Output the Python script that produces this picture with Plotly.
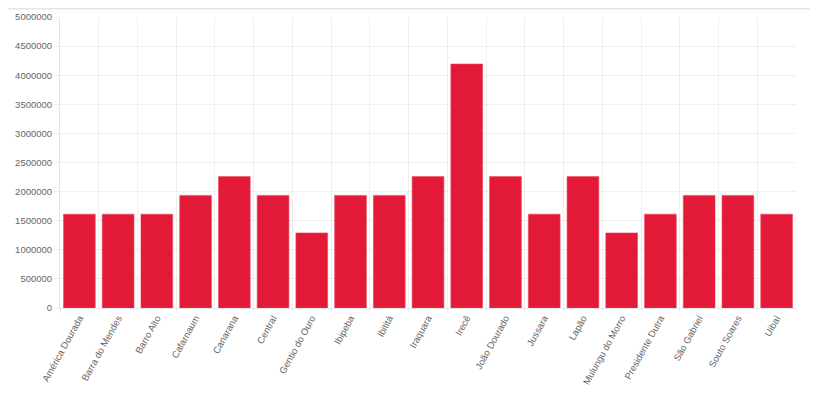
import plotly.graph_objects as go

categories = ["América Dourada", "Barra do Mendes", "Barro Alto", "Cafarnaum", "Canarana",
              "Central", "Gentio do Ouro", "Ibipeba", "Ibititá", "Iraquara", "Irecê",
              "João Dourado", "Jussara", "Lapão", "Mulungu do Morro", "Presidente Dutra",
              "São Gabriel", "Souto Soares", "Uibaí"]
values = [1612500, 1612500, 1612500, 1935000, 2257500,
          1935000, 1290000, 1935000, 1935000, 2257500, 4192500,
          2257500, 1612500, 2257500, 1290000, 1612500,
          1935000, 1935000, 1612500]
y_ticks = [0, 500000, 1000000, 1500000, 2000000, 2500000, 3000000, 3500000, 4000000, 4500000, 5000000]

fig = go.Figure(go.Bar(
    x=categories, y=values,
    marker=dict(color="#e31a37", line=dict(color="#ec4a60", width=0.6)),
))

grid = "rgba(0,0,0,0.06)"
fig.update_layout(
    width=802, height=382,
    margin=dict(l=52, r=14, t=9, b=82),
    paper_bgcolor="white", plot_bgcolor="white",
    bargap=0.18,
    showlegend=False,
    font=dict(family="Liberation Sans, Arial, sans-serif", size=9, color="#666"),
    xaxis=dict(
        automargin=False,
        tickangle=-61, tickson="boundaries", showgrid=True, gridcolor=grid, gridwidth=1,
        ticks="outside", ticklen=5, tickcolor=grid,
        showline=True, linecolor="rgba(0,0,0,0.1)", linewidth=1,
        tickfont=dict(size=9.5, color="#666"),
    ),
    yaxis=dict(
        automargin=False,
        range=[0, 5000000], tickvals=y_ticks, ticktext=[str(v) for v in y_ticks],
        showgrid=True, gridcolor=grid, gridwidth=1, zeroline=False,
        ticks="outside", ticklen=5, tickcolor=grid, ticklabelstandoff=0,
        showline=True, linecolor="rgba(0,0,0,0.1)", linewidth=1,
        tickfont=dict(size=9.5, color="#666"),
    ),
    shapes=[dict(type="line", xref="paper", yref="paper", x0=-0.1, x1=1.1,
                 y0=1 + 8.2 / 291, y1=1 + 8.2 / 291,
                 line=dict(color="#e3e6ea", width=1.5))],
)

fig.write_html("out.html")
